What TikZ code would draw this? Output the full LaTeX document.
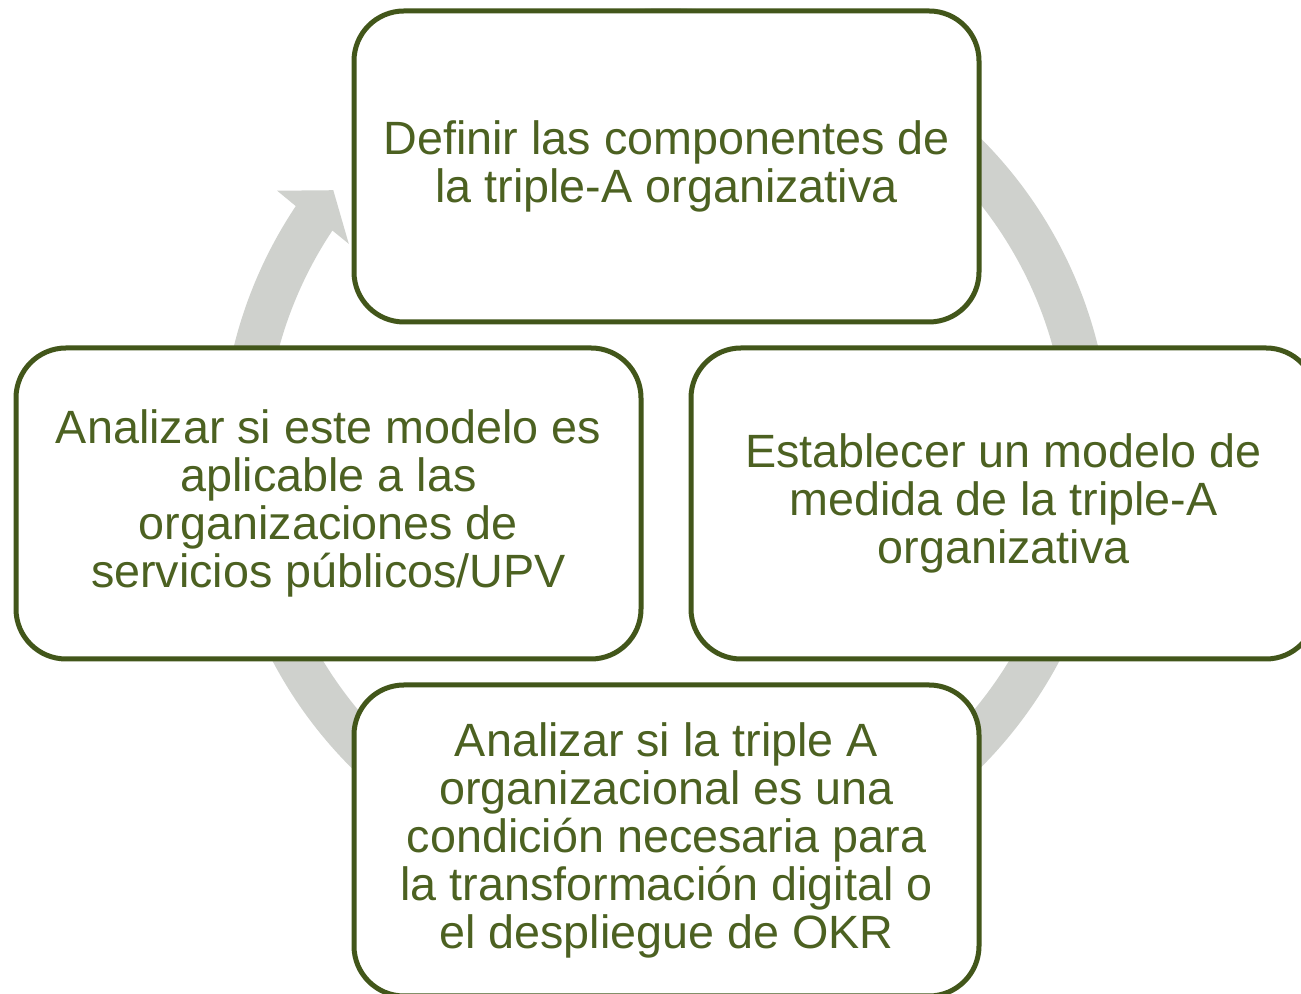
\documentclass[tikz,border=0pt]{standalone}
\usepackage{fontspec}
\setmainfont{Liberation Sans}
\definecolor{ringgray}{RGB}{207,209,205}
\definecolor{boxline}{RGB}{66,86,26}
\definecolor{boxtext}{RGB}{76,97,33}
\begin{document}
\begin{tikzpicture}[x=0.5pt,y=0.5pt]
\tikzset{
  stagebox/.style={draw=boxline, line width=2.5pt, fill=white, rounded corners=25pt,
    minimum width=312.5pt, minimum height=155.5pt, align=center, text=boxtext,
    font=\fontsize{23.35}{24}\selectfont, inner sep=0pt}
}
\useasboundingbox (0,0) rectangle (1301,994);
\fill[white] (0,0) rectangle (1301,994);
% cycle ring with arrowhead
\coordinate (c) at (666,541);
\fill[ringgray, shift={(666,541)}]
  (146.3:445) arc[start angle=146.3, end angle=485, radius=445]
  -- (485:401) arc[start angle=485, end angle=146.3, radius=401]
  -- (146.6:380) -- (141.7:424) -- (146.0:469) -- cycle;
% stage boxes
\node[stagebox] (define) at (666.5,827.5) {Definir las componentes de\\la triple-A organizativa};
\node[stagebox] (measure) at (1003.5,490.5) {Establecer un modelo de\\medida de la triple-A\\organizativa};
\node[stagebox] (necessary) at (666.5,153.5) {Analizar si la triple A\\organizacional es una\\condición necesaria para\\la transformación digital o\\el despliegue de OKR};
\node[stagebox] (applicable) at (328.5,490.5) {Analizar si este modelo es\\aplicable a las\\organizaciones de\\servicios públicos/UPV};
\end{tikzpicture}
\end{document}
